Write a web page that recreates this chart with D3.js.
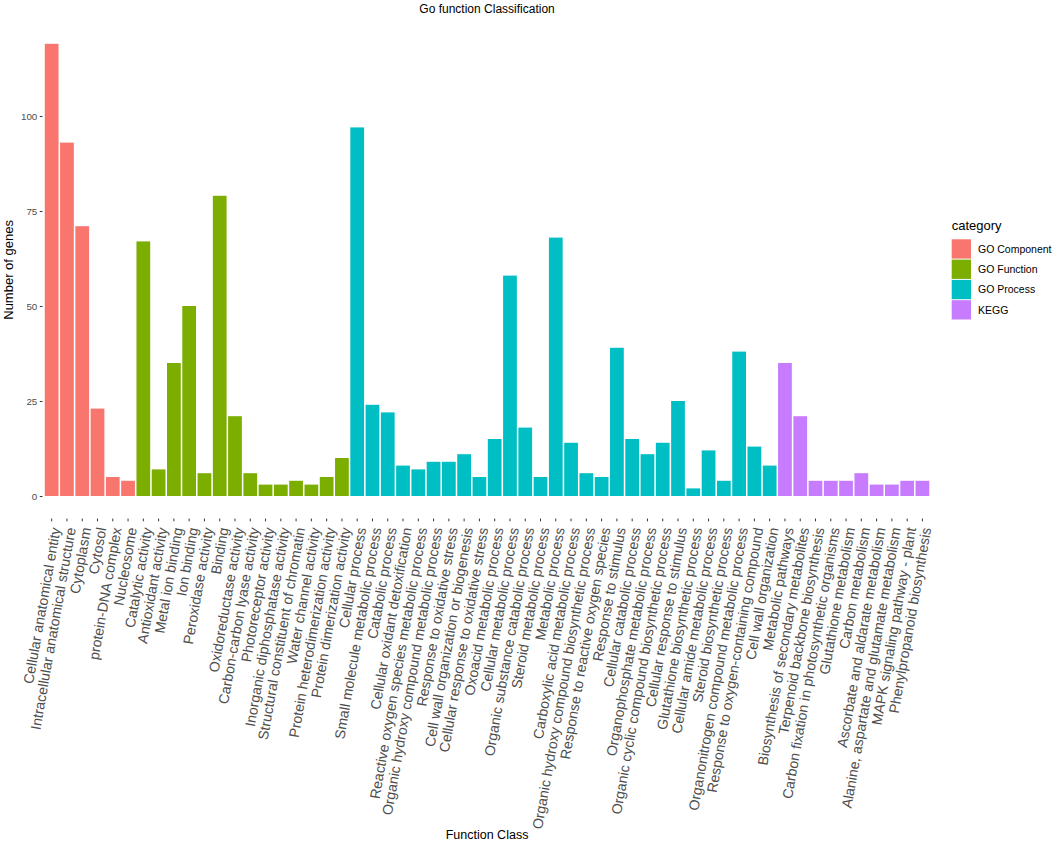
<!DOCTYPE html>
<html>
<head>
<meta charset="utf-8">
<script src="https://cdn.jsdelivr.net/npm/d3@7"></script>
<style>
  body { margin: 0; background: #fff; }
  text { font-family: "Liberation Sans", Arial, Helvetica, sans-serif; }
</style>
</head>
<body>
<script>
// data
var categories = ['GO Component', 'GO Function', 'GO Process', 'KEGG'];
var categoryColors = ['#F8766D', '#7CAE00', '#00BFC4', '#C77CFF'];

var componentLabels = ['Cellular anatomical entity', 'Intracellular anatomical structure', 'Cytoplasm',
    'Cytosol', 'protein-DNA complex', 'Nucleosome'];
var componentValues = [119, 93, 71, 23, 5, 4];

var functionLabels = ['Catalytic activity', 'Antioxidant activity', 'Metal ion binding', 'Ion binding',
    'Peroxidase activity', 'Binding', 'Oxidoreductase activity', 'Carbon-carbon lyase activity',
    'Photoreceptor activity', 'Inorganic diphosphatase activity', 'Structural constituent of chromatin',
    'Water channel activity', 'Protein heterodimerization activity', 'Protein dimerization activity'];
var functionValues = [67, 7, 35, 50, 6, 79, 21, 6, 3, 3, 4, 3, 5, 10];

var processLabels = ['Cellular process', 'Small molecule metabolic process', 'Catabolic process',
    'Cellular oxidant detoxification', 'Reactive oxygen species metabolic process',
    'Organic hydroxy compound metabolic process', 'Response to oxidative stress',
    'Cell wall organization or biogenesis', 'Cellular response to oxidative stress',
    'Oxoacid metabolic process', 'Cellular metabolic process', 'Organic substance catabolic process',
    'Steroid metabolic process', 'Metabolic process', 'Carboxylic acid metabolic process',
    'Organic hydroxy compound biosynthetic process', 'Response to reactive oxygen species',
    'Response to stimulus', 'Cellular catabolic process', 'Organophosphate metabolic process',
    'Organic cyclic compound biosynthetic process', 'Cellular response to stimulus',
    'Glutathione biosynthetic process', 'Cellular amide metabolic process', 'Steroid biosynthetic process',
    'Organonitrogen compound metabolic process', 'Response to oxygen-containing compound',
    'Cell wall organization'];
var processValues = [97, 24, 22, 8, 7, 9, 9, 11, 5, 15, 58, 18, 5, 68, 14, 6, 5, 39, 15, 11, 14, 25,
    2, 12, 4, 38, 13, 8];

var keggLabels = ['Metabolic pathways', 'Biosynthesis of secondary metabolites',
    'Terpenoid backbone biosynthesis', 'Carbon fixation in photosynthetic organisms',
    'Glutathione metabolism', 'Carbon metabolism', 'Ascorbate and aldarate metabolism',
    'Alanine, aspartate and glutamate metabolism', 'MAPK signaling pathway - plant',
    'Phenylpropanoid biosynthesis'];
var keggValues = [35, 21, 4, 4, 4, 6, 3, 3, 4, 4];

var yTicks = [0, 25, 50, 75, 100];

// bundle everything into rows
var rows = [];
[[componentLabels, componentValues], [functionLabels, functionValues],
 [processLabels, processValues], [keggLabels, keggValues]].forEach(function(pair, ci) {
    pair[0].forEach(function(name, i) {
        rows.push({ name: name, value: pair[1][i], category: categories[ci] });
    });
});

var width = 1052, height = 843;
var panel = { left: 42.5, right: 931.6, top: 21.2, bottom: 518.6 };

var svg = d3.select('body').append('svg')
    .attr('width', width)
    .attr('height', height);

var x = d3.scaleBand()
    .domain(rows.map(function(d) { return d.name; }))
    .range([panel.left, panel.right])
    .paddingInner(0.1)
    .paddingOuter(0.15);

var yMax = d3.max(rows, function(d) { return d.value; });
var y = d3.scaleLinear()
    .domain([-yMax * 0.05, yMax * 1.05])
    .range([panel.bottom, panel.top]);

var color = d3.scaleOrdinal().domain(categories).range(categoryColors);

// bars
svg.append('g').selectAll('rect').data(rows)
    .enter().append('rect')
    .attr('x', function(d) { return x(d.name); })
    .attr('width', x.bandwidth())
    .attr('y', function(d) { return y(d.value); })
    .attr('height', function(d) { return y(0) - y(d.value); })
    .attr('fill', function(d) { return color(d.category); });

// y axis
var yAxis = svg.append('g')
    .attr('transform', 'translate(' + panel.left + ',0)')
    .call(d3.axisLeft(y).tickValues(yTicks).tickSize(2.7).tickPadding(2.5));
yAxis.select('.domain').remove();
yAxis.selectAll('.tick line').attr('stroke', '#333').attr('stroke-width', 1);
yAxis.selectAll('.tick text')
    .attr('fill', '#4d4d4d')
    .style('font-size', '9.8px')
    .style('font-family', '"Liberation Sans", Arial, sans-serif');

// x axis
var xAxis = svg.append('g')
    .attr('transform', 'translate(0,' + panel.bottom + ')')
    .call(d3.axisBottom(x).tickSize(2.7).tickSizeOuter(0));
xAxis.select('.domain').remove();
xAxis.selectAll('.tick line').attr('stroke', '#333').attr('stroke-width', 1);
xAxis.selectAll('.tick text')
    .attr('fill', '#4d4d4d')
    .attr('text-anchor', 'end')
    .attr('dy', '0.35em')
    .attr('y', 0)
    .attr('transform', 'translate(4,9) rotate(-80)')
    .style('font-size', '14.2px')
    .style('font-family', '"Liberation Sans", Arial, sans-serif');

// titles
svg.append('text')
    .attr('x', (panel.left + panel.right) / 2)
    .attr('y', 13)
    .attr('text-anchor', 'middle')
    .style('font-size', '12px')
    .text('Go function Classification');

svg.append('text')
    .attr('x', (panel.left + panel.right) / 2)
    .attr('y', 839)
    .attr('text-anchor', 'middle')
    .style('font-size', '12.5px')
    .text('Function Class');

svg.append('text')
    .attr('transform', 'translate(12.7,' + ((panel.top + panel.bottom) / 2) + ') rotate(-90)')
    .attr('text-anchor', 'middle')
    .style('font-size', '13px')
    .text('Number of genes');

// legend
var legend = svg.append('g').attr('transform', 'translate(951.7,0)');
legend.append('text')
    .attr('x', 0)
    .attr('y', 230)
    .style('font-size', '13px')
    .text('category');

var keys = legend.selectAll('.key').data(categories)
    .enter().append('g')
    .attr('class', 'key')
    .attr('transform', function(d, i) { return 'translate(0,' + (239.3 + i * 20.3) + ')'; });
keys.append('rect')
    .attr('width', 19.3)
    .attr('height', 19.3)
    .attr('fill', function(d) { return color(d); });
keys.append('text')
    .attr('x', 26.3)
    .attr('y', 13.4)
    .style('font-size', '10.5px')
    .text(function(d) { return d; });
</script>
</body>
</html>
